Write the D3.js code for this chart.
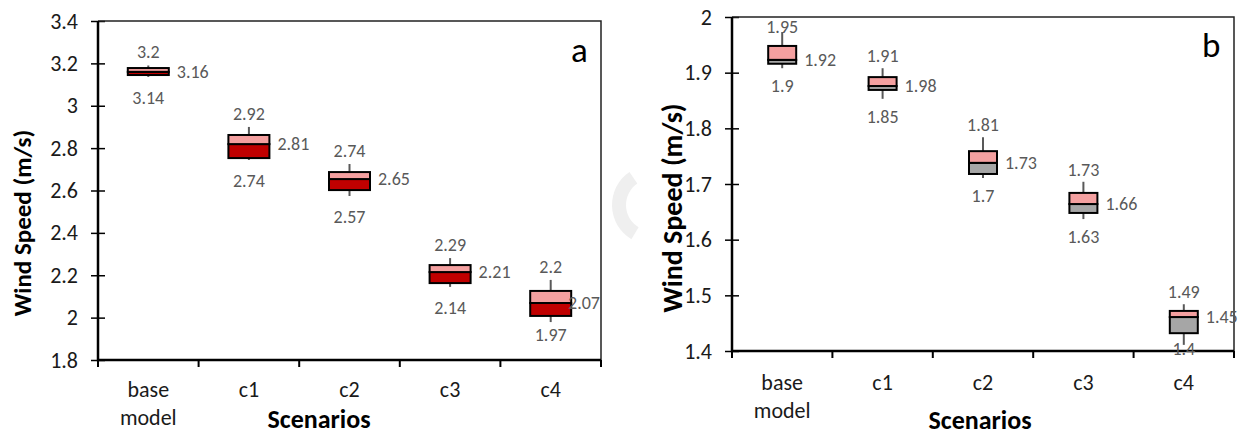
<!DOCTYPE html>
<html>
<head>
<meta charset="utf-8">
<script src="https://cdn.jsdelivr.net/npm/d3@7"></script>
<style>
  body { margin: 0; background: #fff; }
  svg { display: block; font-family: Carlito, Calibri, Lato, sans-serif; }
</style>
</head>
<body>
<svg class="svgWrapper" width="1240" height="436"></svg>
<script>
const scenarios = ['base model', 'c1', 'c2', 'c3', 'c4'];

// panel a - wind speed box stats
const aMin = [3.136, 2.744, 2.574, 2.145, 1.979];
const aQ1  = [3.145, 2.753, 2.602, 2.163, 2.008];
const aMed = [3.160, 2.819, 2.654, 2.215, 2.069];
const aQ3  = [3.178, 2.862, 2.687, 2.248, 2.126];
const aMax = [3.190, 2.900, 2.725, 2.281, 2.178];
const aLabelMax = ['3.2', '2.92', '2.74', '2.29', '2.2'];
const aLabelMed = ['3.16', '2.81', '2.65', '2.21', '2.07'];
const aLabelMin = ['3.14', '2.74', '2.57', '2.14', '1.97'];
const aTicks = [1.8, 2, 2.2, 2.4, 2.6, 2.8, 3, 3.2, 3.4];

// panel b
const bMin = [1.908, 1.853, 1.711, 1.637, 1.411];
const bQ1  = [1.916, 1.869, 1.718, 1.648, 1.432];
const bMed = [1.923, 1.876, 1.738, 1.664, 1.461];
const bQ3  = [1.948, 1.892, 1.759, 1.684, 1.472];
const bMax = [1.973, 1.908, 1.784, 1.704, 1.484];
const bLabelMax = ['1.95', '1.91', '1.81', '1.73', '1.49'];
const bLabelMed = ['1.92', '1.98', '1.73', '1.66', '1.45'];
const bLabelMin = ['1.9', '1.85', '1.7', '1.63', '1.4'];
const bTicks = [1.4, 1.5, 1.6, 1.7, 1.8, 1.9, 2];

const svgObj = d3.select('.svgWrapper');

// faint watermark between the panels
const wm = svgObj.append('g').attr('transform', 'translate(652,205)');
wm.append('path')
  .attr('d', d3.arc().innerRadius(26).outerRadius(40).startAngle(-2.6).endAngle(-0.6)())
  .attr('fill', '#efefef');

function buildPanel(cfg){
  const g = svgObj.append('g');
  const rows = scenarios.map((s, i) => ({
    name: s, min: cfg.min[i], q1: cfg.q1[i], med: cfg.med[i], q3: cfg.q3[i], max: cfg.max[i],
    lMax: cfg.lMax[i], lMed: cfg.lMed[i], lMin: cfg.lMin[i]
  }));

  const x = d3.scaleBand().domain(scenarios).range([cfg.left, cfg.right]).padding(0);
  const y = d3.scaleLinear().domain(d3.extent(cfg.ticks)).range([cfg.bottom, cfg.top]);

  // y axis with ticks crossing the line
  const yAxis = g.append('g')
    .attr('transform', `translate(${cfg.left},0)`)
    .call(d3.axisLeft(y).tickValues(cfg.ticks).tickSize(7).tickPadding(13).tickFormat(d3.format('')));
  yAxis.select('.domain').remove();
  yAxis.selectAll('.tick line').attr('x1', 7).attr('stroke', '#000').attr('stroke-width', 1.5);
  yAxis.selectAll('.tick text').attr('font-size', 22).attr('fill', '#1a1a1a')
    .attr('font-family', 'Carlito, Calibri, Lato, sans-serif');

  // frame: thin top/right, heavy left/bottom
  g.append('path')
    .attr('d', `M${cfg.left},${cfg.top}H${cfg.right}V${cfg.bottom}`)
    .attr('fill', 'none').attr('stroke', '#222').attr('stroke-width', 1.5);
  g.append('path')
    .attr('d', `M${cfg.left},${cfg.top}V${cfg.bottom}H${cfg.right}`)
    .attr('fill', 'none').attr('stroke', '#000').attr('stroke-width', 2.5);

  // x ticks at band edges
  const edges = scenarios.map(s => x(s)).concat([cfg.right]);
  g.selectAll('.xtick').data(edges).enter().append('line')
    .attr('class', 'xtick')
    .attr('x1', d => d).attr('x2', d => d)
    .attr('y1', cfg.bottom).attr('y2', cfg.bottom + 7)
    .attr('stroke', '#000').attr('stroke-width', 2);

  // category labels (base model wraps)
  const cats = g.selectAll('.cat').data(scenarios).enter().append('text')
    .attr('class', 'cat')
    .attr('x', d => x(d) + x.bandwidth() / 2)
    .attr('y', cfg.catY)
    .attr('text-anchor', 'middle').attr('font-size', 22).attr('fill', '#1a1a1a');
  cats.each(function(d){
    const words = d.split(' ');
    const t = d3.select(this);
    words.forEach((w, i) => {
      t.append('tspan').attr('x', x(d) + x.bandwidth() / 2)
        .attr('dy', i === 0 ? 0 : cfg.lineGap).text(w);
    });
  });

  // axis titles
  g.append('text')
    .attr('transform', `translate(${cfg.yTitleX},${cfg.yTitleY}) rotate(-90)`)
    .attr('text-anchor', 'middle').attr('dominant-baseline', 'central')
    .attr('font-size', cfg.yTitleSize).attr('font-weight', 'bold').attr('fill', '#000')
    .text('Wind Speed (m/s)');
  g.append('text')
    .attr('x', cfg.xTitleX).attr('y', cfg.xTitleY)
    .attr('text-anchor', 'middle')
    .attr('font-size', cfg.xTitleSize).attr('font-weight', 'bold').attr('fill', '#000')
    .text('Scenarios');

  // panel letter
  g.append('text')
    .attr('x', cfg.letterX).attr('y', cfg.letterY)
    .attr('font-size', 35).attr('fill', '#000')
    .text(cfg.letter);

  const cx = d => x(d.name) + x.bandwidth() / 2;
  const half = cfg.boxW / 2;

  // whiskers
  g.selectAll('.whisker').data(rows).enter().append('line')
    .attr('class', 'whisker')
    .attr('x1', cx).attr('x2', cx)
    .attr('y1', d => y(d.min)).attr('y2', d => y(d.max))
    .attr('stroke', '#595959').attr('stroke-width', 2);

  // lower half of box (q1 -> median)
  g.selectAll('.lower').data(rows).enter().append('rect')
    .attr('class', 'lower')
    .attr('x', d => cx(d) - half).attr('width', cfg.boxW)
    .attr('y', d => y(d.med)).attr('height', d => y(d.q1) - y(d.med))
    .attr('fill', cfg.lowColor).attr('stroke', '#000').attr('stroke-width', 2);

  // upper half of box (median -> q3)
  g.selectAll('.upper').data(rows).enter().append('rect')
    .attr('class', 'upper')
    .attr('x', d => cx(d) - half).attr('width', cfg.boxW)
    .attr('y', d => y(d.q3)).attr('height', d => y(d.med) - y(d.q3))
    .attr('fill', '#f4a0a0').attr('stroke', '#000').attr('stroke-width', 2);

  // value labels
  const lab = sel => sel.attr('font-size', 18).attr('fill', '#595959');
  g.selectAll('.lmax').data(rows).enter().append('text').call(lab)
    .attr('x', cx).attr('y', d => Math.max(y(d.max) - cfg.topGap, cfg.top + 16))
    .attr('text-anchor', 'middle').text(d => d.lMax);
  g.selectAll('.lmin').data(rows).enter().append('text').call(lab)
    .attr('x', cx).attr('y', d => Math.min(y(d.min) + cfg.botGap, cfg.minLabelLimit))
    .attr('text-anchor', 'middle').text(d => d.lMin);
  g.selectAll('.lmed').data(rows).enter().append('text').call(lab)
    .attr('x', d => cx(d) + half + 8).attr('y', d => y(d.med))
    .attr('dominant-baseline', 'central').text(d => d.lMed)
    .each(function(){
      if (!cfg.clampRight) return;
      const t = d3.select(this);
      const w = this.getComputedTextLength();
      const x0 = +t.attr('x');
      if (x0 + w > cfg.right - 1) t.attr('x', cfg.right - 1 - w);
    });
}

buildPanel({
  min: aMin, q1: aQ1, med: aMed, q3: aQ3, max: aMax,
  lMax: aLabelMax, lMed: aLabelMed, lMin: aLabelMin, ticks: aTicks,
  left: 98, right: 601, top: 21, bottom: 360,
  boxW: 41, lowColor: '#c00000',
  topGap: 7, botGap: 27, minLabelLimit: 341, clampRight: true,
  catY: 397, lineGap: 28,
  yTitleX: 22, yTitleY: 223, yTitleSize: 25,
  xTitleX: 319, xTitleY: 428, xTitleSize: 26,
  letter: 'a', letterX: 571, letterY: 62
});

buildPanel({
  min: bMin, q1: bQ1, med: bMed, q3: bQ3, max: bMax,
  lMax: bLabelMax, lMed: bLabelMed, lMin: bLabelMin, ticks: bTicks,
  left: 732, right: 1234, top: 17, bottom: 351,
  boxW: 28, lowColor: '#a6a6a6',
  topGap: 6, botGap: 24, minLabelLimit: 355, clampRight: false,
  catY: 390, lineGap: 28,
  yTitleX: 672, yTitleY: 208, yTitleSize: 28,
  xTitleX: 980, xTitleY: 429, xTitleSize: 26,
  letter: 'b', letterX: 1202, letterY: 57
});
</script>
</body>
</html>
